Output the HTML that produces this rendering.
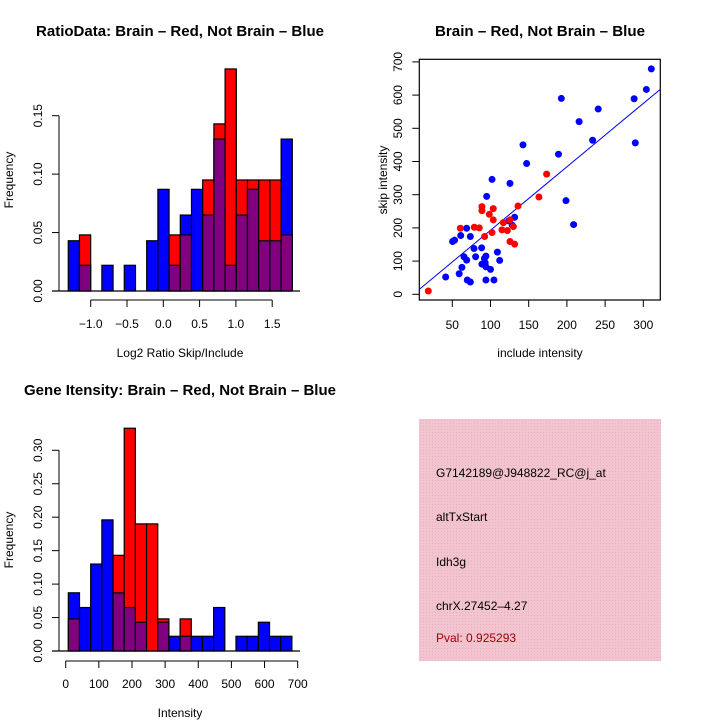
<!DOCTYPE html>
<html><head><meta charset="utf-8"><style>
body{margin:0;background:#fff}
svg{display:block;font-family:"Liberation Sans",sans-serif}
</style></head><body>
<svg id="s" width="720" height="720" viewBox="0 0 720 720" xmlns="http://www.w3.org/2000/svg">
<defs>
<pattern id="hatch" width="3" height="3" patternUnits="userSpaceOnUse">
<rect width="3" height="3" fill="#f2c4cf"/><rect width="1" height="1" fill="#e8b2c0"/>
</pattern>
</defs>
<text x="180" y="36" text-anchor="middle" font-size="15" font-weight="bold" textLength="288" lengthAdjust="spacingAndGlyphs">RatioData: Brain – Red, Not Brain – Blue</text>
<text x="540" y="36" text-anchor="middle" font-size="15" font-weight="bold" textLength="210" lengthAdjust="spacingAndGlyphs">Brain – Red, Not Brain – Blue</text>
<text x="180" y="395" text-anchor="middle" font-size="15" font-weight="bold" textLength="312" lengthAdjust="spacingAndGlyphs">Gene Itensity: Brain – Red, Not Brain – Blue</text>
<text x="180" y="357" text-anchor="middle" font-size="12">Log2 Ratio Skip/Include</text>
<text x="540" y="357" text-anchor="middle" font-size="12">include intensity</text>
<text x="180" y="717" text-anchor="middle" font-size="12">Intensity</text>
<text transform="translate(13,180) rotate(-90)" text-anchor="middle" font-size="12">Frequency</text>
<text transform="translate(13,540) rotate(-90)" text-anchor="middle" font-size="12">Frequency</text>
<text transform="translate(387,180) rotate(-90)" text-anchor="middle" font-size="12">skip intensity</text>
<g>
<rect x="419" y="419" width="242" height="242" fill="url(#hatch)"/>
<text x="436" y="477" font-size="12">G7142189@J948822_RC@j_at</text>
<text x="436" y="521" font-size="12">altTxStart</text>
<text x="436" y="566" font-size="12">Idh3g</text>
<text x="436" y="610" font-size="12">chrX.27452–4.27</text>
<text x="436" y="642" font-size="12" fill="#a00000">Pval: 0.925293</text>
</g>
<g id="h1"></g>
<g id="h2"></g>
<g id="sc"></g>
</svg>
<script>
const ratioBlue=[0.043,0.022,0,0.022,0,0.022,0,0.043,0.087,0.022,0.065,0.087,0.065,0.130,0.022,0.065,0.087,0.043,0.043,0.130];
const ratioRed=[0,0.048,0,0,0,0,0,0,0,0.048,0.048,0,0.095,0.143,0.190,0.095,0.095,0.095,0.095,0.048];
const ratioXTicks=[-1.0,-0.5,0.0,0.5,1.0,1.5];
const ratioXLabels=["−1.0","−0.5","0.0","0.5","1.0","1.5"];
const ratioYTicks=[0,0.05,0.10,0.15];
const ratioYLabels=["0.00","0.05","0.10","0.15"];
const geneBlue=[0.087,0.065,0.130,0.196,0.087,0.065,0.043,0,0.043,0.022,0.022,0.022,0.022,0.065,0,0.022,0.022,0.043,0.022,0.022];
const geneRed=[0.048,0,0,0,0.143,0.333,0.190,0.190,0.048,0,0.048,0,0,0,0,0,0,0,0,0];
const geneXTicks=[0,100,200,300,400,500,600,700];
const geneYTicks=[0,0.05,0.10,0.15,0.20,0.25,0.30];
const geneYLabels=["0.00","0.05","0.10","0.15","0.20","0.25","0.30"];
const blueX=[310.5,304,288,289.5,241,233.7,216,192.7,189,198.8,208.8,142.5,147.3,125.5,102,95,131.6,128.5,123.7,109,112,104.5,94,100,94,93,94,92,88.8,88.4,80.5,78.4,73.6,68.8,61,53,50.4,65.3,68.8,62.6,59,69.6,73.6,41.3];
const blueY=[679,617,589,456,558,464,520,590,422,282,210,450,394,334,346,295,232,208,221,127,102,43,43,75,83,95,115,108,91,140,113,138,174,199,177,163,159,113,103,81,62,43,37,52];
const redX=[18.6,60.5,78.8,85.3,88.8,88.8,92.3,98.4,103.6,103.6,102,116.8,115,122,125.5,131.6,129.9,136,163.4,173.5,125.5];
const redY=[10,199,202,200,264,252,174,241,258,224,186,216,194,192,159,151,204,266,293,362,224];
const scXTicks=[50,100,150,200,250,300];
const scYTicks=[0,100,200,300,400,500,600,700];
const fitIntercept=2, fitSlope=1.91;

const NS="http://www.w3.org/2000/svg";
function el(p,t,a){const e=document.createElementNS(NS,t);for(const k in a)e.setAttribute(k,a[k]);p.appendChild(e);return e;}

function hist(g,blue,red,binX0,binW,xs,ys,y0,xTicks,xLabels,yTicks,yLabels,axY,axXline,yAxisX,baseL,baseR,labY){
  for(let i=0;i<blue.length;i++){
    const b=blue[i],r=red[i];const x1=xs(binX0+i*binW),x2=xs(binX0+(i+1)*binW);
    const mx=Math.max(b,r),mn=Math.min(b,r);
    if(mx>0){const top=el(g,'rect',{x:x1,y:ys(mx),width:x2-x1,height:y0-ys(mx),fill:b>=r?'#0000ff':'#ff0000',stroke:'#000','stroke-width':1.2});
      
      }
    if(mn>0){const pu=el(g,'rect',{x:x1,y:ys(mn),width:x2-x1,height:y0-ys(mn),fill:'#800080',stroke:'#000','stroke-width':1.2});
      
      }
  }
  el(g,'line',{x1:baseL,x2:baseR,y1:y0,y2:y0,stroke:'#000','stroke-width':1.2});
  el(g,'line',{x1:yAxisX,x2:yAxisX,y1:ys(yTicks[0]),y2:ys(yTicks[yTicks.length-1]),stroke:'#000','stroke-width':1});
  yTicks.forEach((v,i)=>{const y=ys(v);el(g,'line',{x1:yAxisX-7,x2:yAxisX,y1:y,y2:y,stroke:'#000'});
    const t=el(g,'text',{transform:`translate(${yAxisX-17},${y}) rotate(-90)`,'text-anchor':'middle','font-size':12});t.textContent=yLabels[i];
    
    });
  el(g,'line',{x1:xs(xTicks[0]),x2:xs(xTicks[xTicks.length-1]),y1:axY,y2:axY,stroke:'#000'});
  xTicks.forEach((v,i)=>{const x=xs(v);el(g,'line',{x1:x,x2:x,y1:axY,y2:axY+7,stroke:'#000'});
    const t=el(g,'text',{x:x,y:labY,'text-anchor':'middle','font-size':12});t.textContent=xLabels[i];
    
    });
}
{const g=document.getElementById('h1');
 const xs=v=>163.3+v*72.6, y0=291, ys=v=>y0-v*(175.3/0.15);
 hist(g,ratioBlue,ratioRed,-1.309,0.1543,xs,ys,y0,ratioXTicks,ratioXLabels,ratioYTicks,ratioYLabels,300,0,59,52,300,328);}
{const g=document.getElementById('h2');
 const xs=v=>65.7+v*0.3314, y0=651, ys=v=>y0-v*(200.7/0.30);
 hist(g,geneBlue,geneRed,7.9,33.73,xs,ys,y0,geneXTicks,geneXTicks.map(String),geneYTicks,geneYLabels,661,0,59,52,300,688);}
{const g=document.getElementById('sc');
 const xs=v=>414.1+v*0.764, ys=v=>294.3-v*0.332;
 el(g,'rect',{x:419.3,y:59.3,width:241,height:240.7,fill:'none',stroke:'#000','stroke-width':1.2});
 scYTicks.forEach(v=>{const y=ys(v);el(g,'line',{x1:412.3,x2:419.3,y1:y,y2:y,stroke:'#000'});
   const t=el(g,'text',{transform:`translate(402,${y}) rotate(-90)`,'text-anchor':'middle','font-size':12});t.textContent=v;
   
   });
 scXTicks.forEach(v=>{const x=xs(v);el(g,'line',{x1:x,x2:x,y1:300,y2:307,stroke:'#000'});
   const t=el(g,'text',{x:x,y:329,'text-anchor':'middle','font-size':12});t.textContent=v;
   
   });
 const xa=6.8,xb=322;
 const ln=el(g,'line',{x1:xs(xa),y1:ys(fitIntercept+fitSlope*xa),x2:xs(xb),y2:ys(fitIntercept+fitSlope*xb),stroke:'#0000ff','stroke-width':1});
 
 
 blueX.forEach((x,i)=>{const c=el(g,'circle',{cx:xs(x),cy:ys(blueY[i]),r:3.5,fill:'#0000ff'});
   
   });
 redX.forEach((x,i)=>{const c=el(g,'circle',{cx:xs(x),cy:ys(redY[i]),r:3.5,fill:'#ff0000'});
   
   });
}
</script>
</body></html>
